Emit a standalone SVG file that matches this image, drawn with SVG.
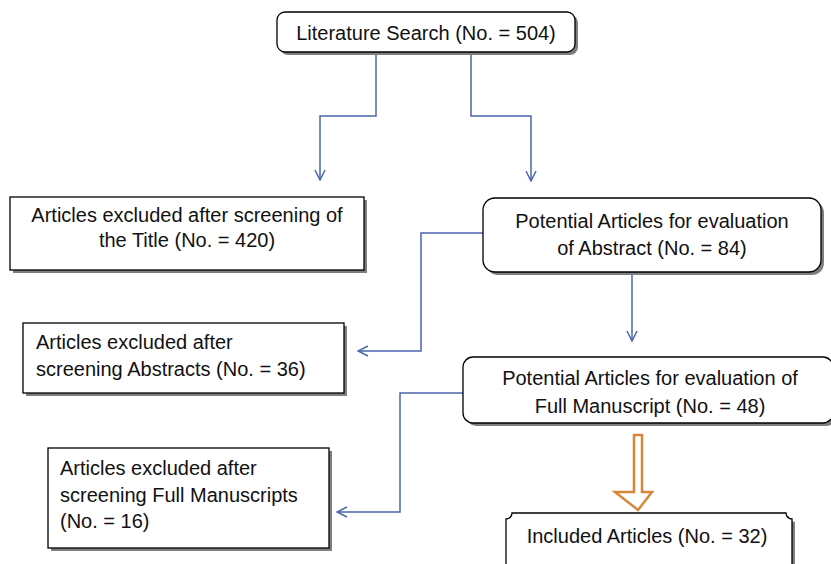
<svg xmlns="http://www.w3.org/2000/svg" width="831" height="564" viewBox="0 0 831 564">
<defs>
<style>
.box{fill:#fff;stroke:#000;stroke-width:1.3}
.sh{fill:#7f7f7f}
.t{font-family:"Liberation Sans",Arial,sans-serif;font-size:20px;fill:#111}
.c{text-anchor:middle}
.ln{fill:none;stroke:#4A66AC;stroke-width:1.5}
</style>
<marker id="ar" viewBox="0 0 12 12" refX="11" refY="6" markerWidth="12" markerHeight="12" markerUnits="userSpaceOnUse" orient="auto">
<path d="M1,1 L11,6 L1,11" fill="none" stroke="#4A66AC" stroke-width="1.5"/>
</marker>
</defs>
<rect width="831" height="564" fill="#fff"/>
<g id="connectors">
<path class="ln" d="M376,52 V116 H320 V180" marker-end="url(#ar)"/>
<path class="ln" d="M471,52 V116 H531 V181" marker-end="url(#ar)"/>
<path class="ln" d="M483,233 H421 V351 H358" marker-end="url(#ar)"/>
<path class="ln" d="M632,272 V341" marker-end="url(#ar)"/>
<path class="ln" d="M463,393 H400 V512 H337" marker-end="url(#ar)"/>
<path d="M634,435 H642 V492 H652 L638,510 L615,492 H634 Z" fill="#fff" stroke="#D5883A" stroke-width="2.5" stroke-linejoin="miter"/>
</g>
<g id="n1">
<rect class="sh" x="280" y="15" width="298" height="40" rx="8"/>
<rect class="box" x="277" y="12" width="298" height="40" rx="8"/>
<text class="t c" x="426" y="40">Literature Search (No. = 504)</text>
</g>
<g id="n2">
<rect class="sh" x="13" y="200" width="354" height="73"/>
<rect class="box" x="10" y="197" width="354" height="73"/>
<text class="t c" x="187" y="222">Articles excluded after screening of</text>
<text class="t c" x="187" y="247">the Title (No. = 420)</text>
</g>
<g id="n3">
<rect class="sh" x="486" y="201" width="338" height="74" rx="12"/>
<rect class="box" x="483" y="198" width="338" height="74" rx="12"/>
<text class="t c" x="652" y="228">Potential Articles for evaluation</text>
<text class="t c" x="652" y="255">of Abstract (No. = 84)</text>
</g>
<g id="n4">
<rect class="sh" x="26" y="326" width="321" height="70"/>
<rect class="box" x="23" y="323" width="321" height="70"/>
<text class="t" x="36" y="349">Articles excluded after</text>
<text class="t" x="36" y="376">screening Abstracts (No. = 36)</text>
</g>
<g id="n5">
<rect class="sh" x="466" y="360" width="370" height="66" rx="10"/>
<rect class="box" x="463" y="357" width="370" height="66" rx="10"/>
<text class="t c" x="650" y="385">Potential Articles for evaluation of</text>
<text class="t c" x="650" y="413">Full Manuscript (No. = 48)</text>
</g>
<g id="n6">
<rect class="sh" x="51" y="451" width="281" height="100"/>
<rect class="box" x="48" y="448" width="281" height="100"/>
<text class="t" x="60" y="475">Articles excluded after</text>
<text class="t" x="60" y="502">screening Full Manuscripts</text>
<text class="t" x="60" y="528">(No. = 16)</text>
</g>
<g id="n7">
<path class="sh" d="M509,522 A6,6 0 0 0 515,516 H789 A6,6 0 0 0 795,522 V580 H509 Z"/>
<path class="box" d="M506,519 A6,6 0 0 0 512,513 H786 A6,6 0 0 0 792,519 V580 H506 Z"/>
<text class="t c" x="647" y="543">Included Articles (No. = 32)</text>
</g>
</svg>
